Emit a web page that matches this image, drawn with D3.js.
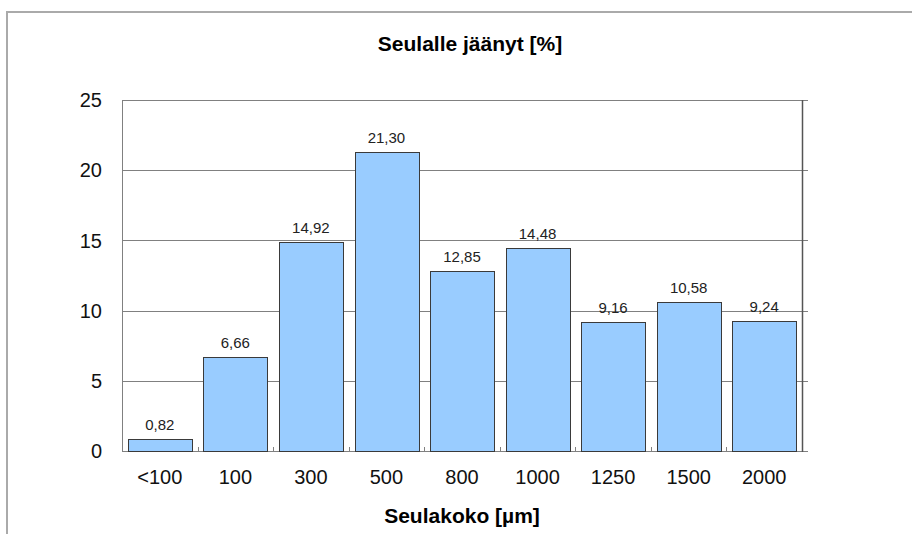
<!DOCTYPE html>
<html>
<head>
<meta charset="utf-8">
<script src="https://cdn.jsdelivr.net/npm/d3@7"></script>
<style>
  html, body { margin: 0; padding: 0; background: #fff; }
  svg { display: block; font-family: "Liberation Sans", Arial, sans-serif; }
</style>
</head>
<body>
<svg id="chart" width="912" height="534"></svg>
<script>
// Sieve fractions: share retained on each sieve
const categories = ["<100", "100", "300", "500", "800", "1000", "1250", "1500", "2000"];
const values = [0.82, 6.66, 14.92, 21.30, 12.85, 14.48, 9.16, 10.58, 9.24];
const yTicks = [0, 5, 10, 15, 20, 25];
const chartTitle = "Seulalle jäänyt [%]";
const xTitle = "Seulakoko [µm]";

const svg = d3.select("#chart");
const plot = { left: 122, right: 802, top: 100, bottom: 451 };

// outer frame
svg.append("path")
  .attr("d", "M7,534 V12 H912")
  .attr("fill", "none")
  .attr("stroke", "#aaaaaa")
  .attr("stroke-width", 2);

const x = d3.scaleBand()
  .domain(categories)
  .range([plot.left, plot.right])
  .paddingInner(0.155)
  .paddingOuter(0.0775);

const xBand = d3.scaleBand().domain(categories).range([plot.left, plot.right]);

const y = d3.scaleLinear().domain([0, 25]).range([plot.bottom, plot.top]);

// horizontal gridlines, extended as outer ticks on the right
svg.append("g")
  .selectAll("line")
  .data(yTicks)
  .join("line")
  .attr("x1", plot.left)
  .attr("x2", plot.right + 6)
  .attr("y1", d => Math.round(y(d)) + 0.5)
  .attr("y2", d => Math.round(y(d)) + 0.5)
  .attr("stroke", "#808080")
  .attr("stroke-width", 1);

// plot frame
svg.append("line")
  .attr("x1", plot.left + 0.5).attr("x2", plot.left + 0.5)
  .attr("y1", plot.top).attr("y2", plot.bottom)
  .attr("stroke", "#808080");
svg.append("line")
  .attr("x1", plot.right + 0.5).attr("x2", plot.right + 0.5)
  .attr("y1", plot.top).attr("y2", plot.bottom + 1)
  .attr("stroke", "#555555").attr("stroke-width", 1.5);

// small inward category ticks along the baseline
svg.append("g")
  .selectAll("line")
  .data(categories.slice(1))
  .join("line")
  .attr("x1", d => Math.round(xBand(d)) + 0.5)
  .attr("x2", d => Math.round(xBand(d)) + 0.5)
  .attr("y1", plot.bottom - 4)
  .attr("y2", plot.bottom)
  .attr("stroke", "#808080");

// y tick labels
svg.append("g")
  .selectAll("text")
  .data(yTicks)
  .join("text")
  .attr("x", 102)
  .attr("y", d => y(d))
  .attr("dy", "0.36em")
  .attr("text-anchor", "end")
  .attr("font-size", 20)
  .attr("fill", "#111")
  .text(d => d);

// bars
svg.append("g")
  .selectAll("rect")
  .data(values)
  .join("rect")
  .attr("x", (d, i) => Math.round(x(categories[i])) + 0.5)
  .attr("y", d => Math.round(y(d)) + 0.5)
  .attr("width", Math.round(x.bandwidth()))
  .attr("height", d => Math.round(y(0)) - Math.round(y(d)))
  .attr("fill", "#99ccff")
  .attr("stroke", "#3a3a3a")
  .attr("stroke-width", 1);

// value labels
svg.append("g")
  .selectAll("text")
  .data(values)
  .join("text")
  .attr("x", (d, i) => x(categories[i]) + x.bandwidth() / 2)
  .attr("y", d => y(d) - 9)
  .attr("text-anchor", "middle")
  .attr("font-size", 15)
  .attr("fill", "#222")
  .text(d => d.toFixed(2).replace(".", ","));

// x category labels
svg.append("g")
  .selectAll("text")
  .data(categories)
  .join("text")
  .attr("x", d => xBand(d) + xBand.bandwidth() / 2)
  .attr("y", 484)
  .attr("text-anchor", "middle")
  .attr("font-size", 20)
  .attr("fill", "#111")
  .text(d => d);

// titles
svg.append("text")
  .attr("x", 470)
  .attr("y", 51)
  .attr("text-anchor", "middle")
  .attr("font-size", 21)
  .attr("font-weight", "bold")
  .attr("fill", "#000")
  .text(chartTitle);

svg.append("text")
  .attr("x", 462)
  .attr("y", 523)
  .attr("text-anchor", "middle")
  .attr("font-size", 21)
  .attr("font-weight", "bold")
  .attr("fill", "#000")
  .text(xTitle);
</script>
</body>
</html>
